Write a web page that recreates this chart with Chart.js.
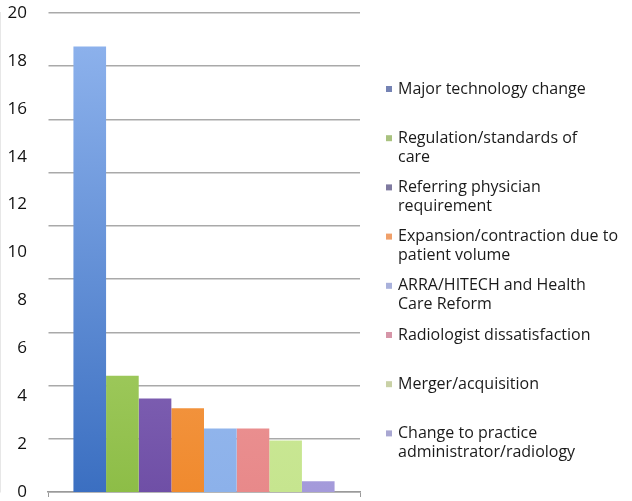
<!DOCTYPE html>
<html>
<head>
<meta charset="utf-8">
<script src="https://cdn.jsdelivr.net/npm/chart.js@4.4.1/dist/chart.umd.min.js"></script>
<style>
  html, body { margin: 0; padding: 0; background: #ffffff; }
  #wrap { width: 632px; height: 501px; position: relative; }
</style>
</head>
<body>
<div id="wrap"><canvas id="c"></canvas></div>
<script>
// ---- data ----
const categories = [''];
const seriesLabels = [
  ['Major technology change'],
  ['Regulation/standards of', 'care'],
  ['Referring physician', 'requirement'],
  ['Expansion/contraction due to', 'patient volume'],
  ['ARRA/HITECH and Health', 'Care Reform'],
  ['Radiologist dissatisfaction'],
  ['Merger/acquisition'],
  ['Change to practice', 'administrator/radiology']
];
const seriesValues = [18.6, 4.85, 3.9, 3.5, 2.65, 2.65, 2.15, 0.45];
const yTickLabels = [0, 2, 4, 6, 8, 10, 12, 14, 16, 18, 20];

// ---- styles ----
const barTop    = ['#92b6ef', '#c9e791', '#ab92d6', '#f9b77a', '#aac8f4', '#f3b0ae', '#dcf2ad', '#b7b0e6'];
const barBottom = ['#3b6fc1', '#8dbd47', '#6f4fa6', '#f08a2e', '#8cb1ea', '#e8898a', '#c6e58f', '#a49ada'];
const legendSwatch = ['#7583b4', '#a9c27f', '#7f7aa0', '#f0a06a', '#a9b1db', '#d696a8', '#c9d1a6', '#a9a7d2'];

function grad(i) {
  return (ctx) => {
    const chart = ctx.chart;
    const a = chart.chartArea;
    if (!a) return barBottom[i];
    const g = chart.ctx.createLinearGradient(0, a.top, 0, a.bottom);
    g.addColorStop(0, barTop[i]);
    g.addColorStop(1, barBottom[i]);
    return g;
  };
}

const datasets = seriesValues.map((v, i) => ({
  label: seriesLabels[i].join(' '),
  data: [v],
  backgroundColor: grad(i),
  borderWidth: 0,
  categoryPercentage: 0.837,
  barPercentage: 1.0
}));

const legendPlugin = {
  id: 'sideLegend',
  afterDraw(chart) {
    const ctx = chart.ctx;
    ctx.save();
    ctx.font = '16px "Open Sans", sans-serif';
    ctx.textBaseline = 'middle';
    ctx.textAlign = 'left';
    seriesLabels.forEach((lines, i) => {
      const y0 = 89 + i * 49.2;
      ctx.fillStyle = legendSwatch[i];
      ctx.fillRect(386, y0 - 3, 6, 6);
      ctx.fillStyle = '#1a1a1a';
      lines.forEach((t, k) => ctx.fillText(t, 398, y0 + k * 19));
    });
    ctx.restore();
  }
};

function noPad(s) {
  s.paddingTop = 0; s.paddingBottom = 0; s.paddingLeft = 0; s.paddingRight = 0;
}

new Chart(document.getElementById('c'), {
  type: 'bar',
  data: { labels: categories, datasets },
  options: {
    responsive: true,
    maintainAspectRatio: false,
    animation: false,
    layout: { padding: { top: 13, right: 272, bottom: 0, left: 0 } },
    plugins: { legend: { display: false }, tooltip: { enabled: false } },
    scales: {
      x: {
        offset: true,
        grid: { offset: true, drawOnChartArea: false, tickLength: 5, color: '#9a9a9a' },
        border: { color: '#9a9a9a', width: 1.5 },
        ticks: { display: false },
        afterFit: (s) => { s.height = 9; noPad(s); }
      },
      y: {
        position: 'left',
        min: 0, max: 20,
        afterBuildTicks: (s) => { s.ticks = yTickLabels.map(v => ({ value: v })); },
        ticks: {
          color: '#111111',
          font: { family: '"Open Sans", sans-serif', size: 17 },
          padding: 13
        },
        grid: { display: false },
        border: { display: false },
        afterFit: (s) => { s.width = 48; noPad(s); }
      },
      yGrid: {
        position: 'left',
        min: 0, max: 20,
        ticks: { display: false, stepSize: 20 / 9 },
        grid: { color: '#a9a9a9', lineWidth: 1.5, tickLength: 3 },
        border: { color: '#d0d0d0', width: 1.5 },
        afterFit: (s) => { s.width = 0; noPad(s); }
      }
    }
  },
  plugins: [legendPlugin]
});
</script>
</body>
</html>
